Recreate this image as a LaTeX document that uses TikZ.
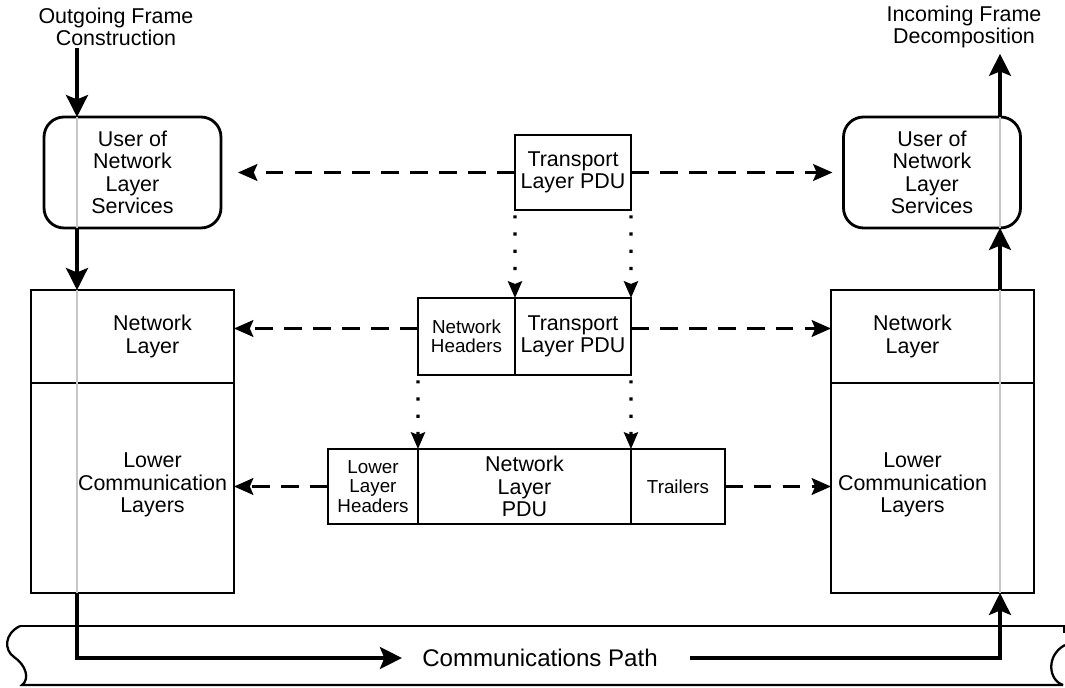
\documentclass[tikz,border=0pt]{standalone}
\usepackage{fontspec}
\setmainfont{Liberation Sans}
\usetikzlibrary{arrows.meta,positioning,calc}

\begin{document}
\begin{tikzpicture}[x=0.02cm,y=-0.02cm,
  box/.style={draw,line width=1.6pt,inner sep=0pt,outer sep=0pt,align=center,font=\fontsize{12.2}{12.8}\selectfont},
  ubox/.style={box,rounded corners=0.4cm,minimum width=3.54cm,minimum height=2.22cm},
  smallbox/.style={box,font=\fontsize{10.7}{10.9}\selectfont},
  lbl/.style={align=center,inner sep=1pt,font=\fontsize{12.2}{12.8}\selectfont},
  flow/.style={line width=2pt,-{Stealth[length=12.5pt,width=12.5pt,inset=2.5pt]}},
  trace/.style={line width=1.2pt,black!22},
  peer/.style={line width=1.8pt,dash pattern=on 10pt off 6.5pt,-{Stealth[length=11pt,width=9.5pt,inset=2pt]}},
  encap/.style={line width=1.8pt,dash pattern=on 1.8pt off 8pt,shorten <=3pt,-{Stealth[length=9.5pt,width=8pt,inset=1.5pt]}}]
\useasboundingbox (0,0) rectangle (1065,688);

% Communications path band
\draw[line width=1.3pt] (20,626) -- (1064,626) -- (1064,633);
\draw[line width=1.3pt] (20,626) .. controls (4,634) and (4,650) .. (14,657)
  .. controls (26,665) and (30,679) .. (22,685) -- (1063,685);
\draw[line width=1.3pt] (1065,645) .. controls (1046,655) and (1048,680) .. (1063,685);

% End systems
\node[ubox] (userL) at (132.5,172.5) {User of\\Network\\Layer\\Services};
\node[ubox] (userR) at (932,172.5) {User of\\Network\\Layer\\Services};
\node[box,minimum width=4.06cm,minimum height=1.86cm] (netL) at (132.5,336.5) {};
\node[box,minimum width=4.06cm,minimum height=4.2cm] (lowL) at (132.5,488) {};
\node[box,minimum width=4.06cm,minimum height=1.86cm] (netR) at (932.5,336.5) {};
\node[box,minimum width=4.06cm,minimum height=4.2cm] (lowR) at (932.5,488) {};
\node[lbl] at ([xshift=0.4cm]netL.center) {Network\\Layer};
\node[lbl] at ([xshift=0.4cm,yshift=0.06cm]lowL.center) {Lower\\Communication\\Layers};
\node[lbl] at ([xshift=-0.4cm]netR.center) {Network\\Layer};
\node[lbl] at ([xshift=-0.4cm,yshift=0.06cm]lowR.center) {Lower\\Communication\\Layers};

% Encapsulated units
\node[box,minimum width=2.32cm,minimum height=1.5cm] (tpdu) at (573,172.5) {Transport\\Layer PDU};
\node[smallbox,minimum width=1.94cm,minimum height=1.54cm] (nhdr) at (466.5,336.5) {Network\\Headers};
\node[box,minimum width=2.32cm,minimum height=1.54cm,right=0pt of nhdr] (tpdu2) {Transport\\Layer PDU};
\node[smallbox,minimum width=1.8cm,minimum height=1.5cm] (llh) at (373,486.5) {Lower\\Layer\\Headers};
\node[box,minimum width=4.26cm,minimum height=1.5cm,right=0pt of llh] (npdu) {Network\\Layer\\PDU};
\node[smallbox,minimum width=1.88cm,minimum height=1.5cm,right=0pt of npdu] (trl) {Trailers};

% Labels
\node[lbl] (outLbl) at (116,27) {Outgoing Frame\\Construction};
\node[lbl] (inLbl) at (964,27) {Incoming Frame\\Decomposition};
\node[font=\fontsize{13.7}{14}\selectfont,inner xsep=0.4cm,inner ysep=0pt] (cpath) at (540,658) {Communications Path};
\coordinate (xL) at (77,0);
\coordinate (xR) at (1000,0);

% Frame traces through the stacks
\draw[trace] (userL.north -| xL) -- (userL.south -| xL);
\draw[trace] (netL.north -| xL) -- (lowL.south -| xL);
\draw[trace] (lowR.south -| xR) -- (netR.north -| xR);
\draw[trace] (userR.south -| xR) -- (userR.north -| xR);

% Frame flow
\draw[flow] (outLbl.south -| xL) -- (userL.north -| xL);
\draw[flow] (userL.south -| xL) -- (netL.north -| xL);
\draw[flow] (lowL.south -| xL) |- (cpath.west);
\draw[flow] ([xshift=0.24cm]cpath.east) -| (lowR.south -| xR);
\draw[flow] (netR.north -| xR) -- (userR.south -| xR);
\draw[flow,shorten >=2pt] (userR.north -| xR) -- (inLbl.south -| xR);

% Peer relations
\draw[peer,shorten >=0.34cm] (tpdu.west) -- (tpdu.west -| userL.east);
\draw[peer,shorten >=0.22cm] (tpdu.east) -- (tpdu.east -| userR.west);
\draw[peer] ([yshift=0.16cm]nhdr.west) -- ([yshift=0.16cm]nhdr.west -| netL.east);
\draw[peer] ([yshift=0.16cm]tpdu2.east) -- ([yshift=0.16cm]tpdu2.east -| netR.west);
\draw[peer] (llh.west) -- (llh.west -| lowL.east);
\draw[peer] (trl.east) -- (trl.east -| lowR.west);

% Encapsulation
\draw[encap] (tpdu.south west) -- (tpdu2.north west);
\draw[encap] (tpdu.south east) -- (tpdu2.north east);
\draw[encap] (nhdr.south west) -- (npdu.north west);
\draw[encap] (tpdu2.south east) -- (npdu.north east);
\end{tikzpicture}
\end{document}
